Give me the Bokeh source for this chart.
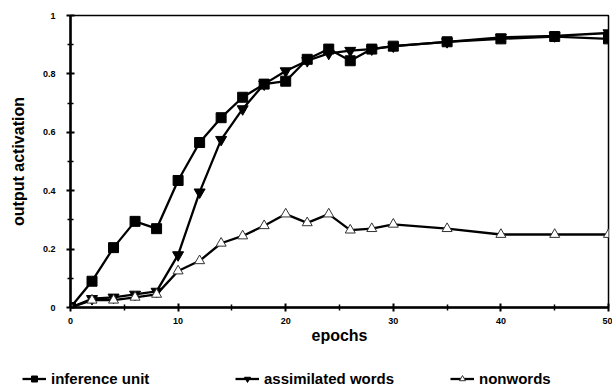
from bokeh.plotting import figure
from bokeh.layouts import column, row
from bokeh.models import (FixedTicker, CustomJSTickFormatter, Legend, LegendItem,
                          Range1d, ColumnDataSource)
from bokeh.embed import file_html
from bokeh.resources import INLINE

epochs = [0, 2, 4, 6, 8, 10, 12, 14, 16, 18, 20, 22, 24, 26, 28, 30, 35, 40, 45, 50]
inference_unit = [0.0, 0.09, 0.205, 0.295, 0.27, 0.435, 0.565, 0.65, 0.72, 0.765,
                  0.775, 0.85, 0.885, 0.845, 0.885, 0.895, 0.91, 0.92, 0.928, 0.92]
assimilated_words = [0.0, 0.03, 0.035, 0.045, 0.055, 0.18, 0.395, 0.575, 0.68, 0.765,
                     0.81, 0.845, 0.87, 0.88, 0.885, 0.895, 0.91, 0.925, 0.93, 0.94]
nonwords = [0.0, 0.025, 0.025, 0.035, 0.045, 0.125, 0.16, 0.22, 0.245, 0.28,
            0.32, 0.29, 0.32, 0.265, 0.27, 0.285, 0.27, 0.25, 0.25, 0.25]
series_names = ["inference unit", "assimilated words", "nonwords"]

x_ticks = [0, 10, 20, 30, 40, 50]
x_minor = [5, 15, 25, 35, 45]
y_ticks = [0, 0.2, 0.4, 0.6, 0.8, 1.0]
y_minor = [0.1, 0.3, 0.5, 0.7, 0.9]

FONT = "Liberation Sans"

p = figure(width=612, height=355, output_backend="svg", toolbar_location=None,
           x_range=Range1d(0, 50), y_range=Range1d(0, 1),
           min_border_left=70, min_border_right=4, min_border_top=15, min_border_bottom=48)
p.xgrid.visible = False
p.ygrid.visible = False
p.outline_line_color = "black"
p.outline_line_width = 1.5
p.background_fill_color = "white"
p.border_fill_color = "white"

for ax in (p.xaxis[0], p.yaxis[0]):
    ax.axis_line_width = 2.5
    ax.axis_line_color = "black"
    ax.major_tick_line_width = 2
    ax.minor_tick_line_width = 1.5
    ax.major_tick_in = 4
    ax.major_tick_out = 4
    ax.minor_tick_in = 3
    ax.minor_tick_out = 3
    ax.major_label_text_font = FONT
    ax.major_label_text_font_style = "bold"
    ax.major_label_text_font_size = "9px"
    ax.major_label_text_color = "black"
    ax.axis_label_text_font = FONT
    ax.axis_label_text_font_style = "bold"
    ax.axis_label_text_font_size = "16px"
    ax.axis_label_text_color = "black"

p.xaxis.ticker = FixedTicker(ticks=x_ticks, minor_ticks=x_minor)
p.yaxis.ticker = FixedTicker(ticks=y_ticks, minor_ticks=y_minor)
p.yaxis.formatter = CustomJSTickFormatter(
    code="return (tick == 0 || tick == 1) ? tick.toFixed(0) : tick.toFixed(1);")
p.xaxis.axis_label = "epochs"
p.yaxis.axis_label = "output activation"
p.xaxis.major_label_standoff = 6
p.xaxis.axis_label_standoff = 0
p.yaxis.major_label_standoff = 11
p.yaxis.axis_label_standoff = 13

src = ColumnDataSource(dict(x=epochs, inf=inference_unit, asm=assimilated_words, non=nonwords))

LINE = dict(line_color="black", line_width=2.3)
M1 = dict(marker="square", size=10, fill_color="black", line_color="black")
M2 = dict(marker="inverted_triangle", size=11, fill_color="black", line_color="black")
M3 = dict(marker="triangle", size=10, fill_color="white", line_color="#333333", line_width=1)

p.line("x", "inf", source=src, **LINE)
p.scatter("x", "inf", source=src, **M1)
p.line("x", "asm", source=src, **LINE)
p.scatter("x", "asm", source=src, **M2)
p.line("x", "non", source=src, **LINE)
p.scatter("x", "non", source=src, **M3)

# legend strip below the chart
lg = figure(width=612, height=32, output_backend="svg", toolbar_location=None,
            x_range=Range1d(0, 1), y_range=Range1d(0, 1),
            x_axis_location=None, y_axis_location=None,
            min_border=0, min_border_left=0, min_border_right=0,
            min_border_top=0, min_border_bottom=0)
lg.xgrid.visible = False
lg.ygrid.visible = False
lg.outline_line_color = None
lg.border_fill_color = "white"

# off-range placeholder points so the legend glyphs have a style to draw
dummy = ColumnDataSource(dict(x=[-10, -9], y=[-10, -9]))
styles = [M1, M2, M3]
x_offsets = [22, 235, 450]
for name, mstyle, xoff in zip(series_names, styles, x_offsets):
    r_line = lg.line("x", "y", source=dummy, **LINE)
    r_mark = lg.scatter("x", "y", source=dummy, **mstyle)
    leg = Legend(items=[LegendItem(label=name, renderers=[r_line, r_mark])],
                 location=(xoff, 0), orientation="horizontal",
                 border_line_color=None, background_fill_alpha=0,
                 padding=0, margin=0, spacing=0,
                 glyph_width=24, glyph_height=15, label_height=15,
                 label_standoff=5,
                 label_text_font=FONT, label_text_font_style="bold",
                 label_text_font_size="15px", label_text_color="black")
    lg.add_layout(leg, "center")

layout = column(p, row(lg), spacing=0)
open("out.html", "w").write(file_html(layout, INLINE))
